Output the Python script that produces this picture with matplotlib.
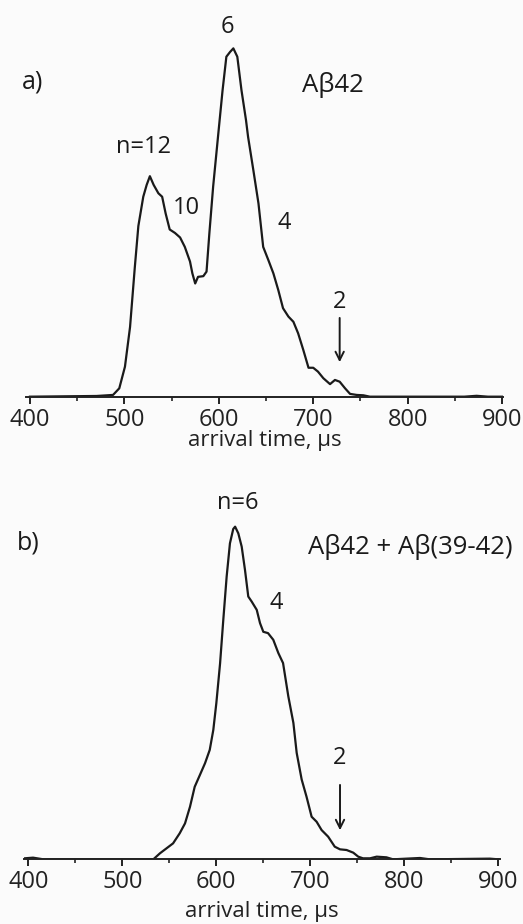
import matplotlib
matplotlib.use("Agg")
import matplotlib.pyplot as plt
from matplotlib.ticker import MultipleLocator

plt.rcParams['font.family'] = ['Open Sans', 'DejaVu Sans']

# Panel a) : Abeta42 arrival time distribution (normalized intensity)
t_a = [400, 470.6, 488, 494.6, 500.6, 506, 511, 514.8, 520, 523.6, 527, 531, 536, 540,
       543.7, 548, 553.6, 559, 564, 569.5, 572, 575, 578, 583.6, 587, 590, 594, 599.5,
       604, 608, 612, 615.4, 619.6, 624, 628.8, 631, 636.6, 642, 647, 652.5, 657.8, 663,
       668, 673.7, 679, 684, 689.5, 695, 700, 705, 710.7, 717.8, 723, 728, 733.7, 739,
       746, 753, 760, 860, 873, 885, 900]
y_a = [0, 0.2, 0.5, 2.4, 8.6, 20, 37, 49, 57.4, 60.8, 63.3, 60.8, 58.4, 57.4,
       52.6, 48, 47, 45.7, 43, 38.8, 35.4, 32.5, 34.4, 34.6, 35.9, 46.9, 60.3, 75.6,
       88, 97.6, 99, 100, 97.6, 88, 79.4, 74.6, 65, 55.5, 43, 39.2, 35.4, 30.6,
       25.4, 23, 21.5, 18.2, 13.4, 8.3, 8.3, 7.2, 5.3, 3.6, 4.8, 4.3, 2.4, 0.8,
       0.5, 0.4, 0, 0, 0.25, 0, 0]

# Panel b) : Abeta42 + Abeta(39-42)
t_b = [396, 405, 416, 533, 540, 547, 554, 561, 566.7, 572, 577, 582.6, 588, 593, 596.8,
       600, 604, 607.4, 611, 614.5, 618, 620, 623.4, 627, 630.5, 634, 637.6, 643, 646.5,
       650, 655, 660.6, 666, 671, 676.6, 682, 685.5, 690.8, 696, 701.4, 706.7, 712, 719,
       726, 731.6, 738.6, 745.7, 751, 756, 763.5, 770.6, 781, 788, 816.7, 827, 891, 900]
y_b = [0.3, 0.5, 0, 0, 1.8, 3.3, 4.8, 7.8, 10.8, 15.8, 21.8, 25.4, 28.9, 32.9, 38.9,
       46.9, 58.9, 71.9, 85, 95, 99.3, 100, 98, 94, 87, 79, 77.5, 75, 71,
       68.4, 68, 66, 62, 59, 49, 41, 32, 24, 18.8, 12.8, 11.3, 8.8, 6.8,
       3.8, 3, 2.8, 2, 0.8, 0.3, 0.3, 0.8, 0.6, 0, 0.4, 0, 0.2, 0]

xticks = [400, 500, 600, 700, 800, 900]
xlabel = "arrival time, µs"

W, H = 523, 924
fig = plt.figure(figsize=(W / 100, H / 100), dpi=100)
fig.patch.set_facecolor('#fbfbfb')

def px(x, y):
    return x / W, 1 - y / H

def setup(ax, xlim, ylim, lpad):
    ax.set_facecolor('none')
    ax.set_xlim(*xlim)
    ax.set_ylim(*ylim)
    for s in ['top', 'right', 'left']:
        ax.spines[s].set_visible(False)
    ax.spines['bottom'].set_linewidth(1.4)
    ax.spines['bottom'].set_color('#222222')
    ax.set_yticks([])
    ax.set_xticks(xticks)
    ax.xaxis.set_minor_locator(MultipleLocator(50))
    ax.tick_params(axis='x', which='major', direction='out', length=5, width=1.4,
                   labelsize=17, pad=3, colors='#222222')
    ax.tick_params(axis='x', which='minor', direction='out', length=3, width=1.2,
                   colors='#222222')
    ax.set_xlabel(xlabel, fontsize=16, labelpad=lpad, color='#222222')

# Top panel
ax1 = fig.add_axes([0.0497, 0.5707, 0.9121, 0.386])
setup(ax1, (395.8, 901), (0, 102.4), -1)
ax1.plot(t_a, y_a, color='#1a1a1a', lw=1.6)
ax1.annotate('', xy=(728, 9.1), xytext=(728, 23.4),
             arrowprops=dict(arrowstyle='->', color='#1a1a1a', lw=1.4,
                             mutation_scale=15))

# Bottom panel
ax2 = fig.add_axes([0.0459, 0.07, 0.9101, 0.3672])
setup(ax2, (395.4, 901.8), (0, 102), 5)
ax2.plot(t_b, y_b, color='#1a1a1a', lw=1.6)
ax2.annotate('', xy=(731.6, 7.9), xytext=(731.6, 23.2),
             arrowprops=dict(arrowstyle='->', color='#1a1a1a', lw=1.4,
                             mutation_scale=15))

tc = '#1a1a1a'
def lab(x, y, s, ha='center', size=17):
    fig.text(*px(x, y), s, ha=ha, va='center', fontsize=size, color=tc)

lab(22, 82, 'a)', ha='left', size=18)
lab(333, 85, 'Aβ42', size=18.5)
lab(227, 27, '6')
lab(143, 147, 'n=12')
lab(186, 208, '10')
lab(284, 223, '4')
lab(340, 302, '2')

lab(17, 543, 'b)', ha='left', size=18)
lab(410, 547, 'Aβ42 + Aβ(39-42)', size=18.5)
lab(238, 503, 'n=6')
lab(276, 603, '4')
lab(340, 758, '2')

fig.savefig('out.png', dpi=100, facecolor=fig.get_facecolor())
